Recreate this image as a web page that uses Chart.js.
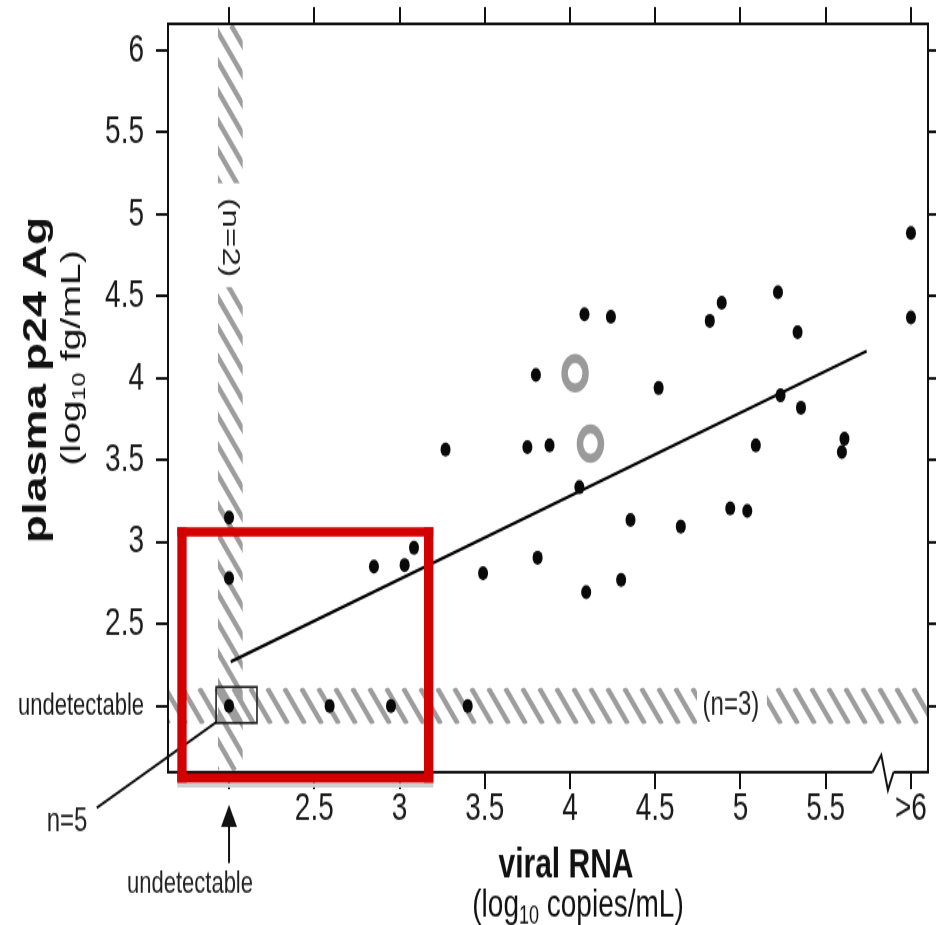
<!DOCTYPE html>
<html>
<head>
<meta charset="utf-8">
<script src="https://cdn.jsdelivr.net/npm/chart.js@4.4.1/dist/chart.umd.min.js"></script>
<style>
  body { margin: 0; background: #fff; }
</style>
</head>
<body>
<!-- the source figure is stretched vertically, so the canvas is drawn 660 high and shown 925 high -->
<canvas id="p24Chart" width="936" height="660" style="display:block;width:936px;height:925px"></canvas>
<script>
// ticks (log10 units); 2 stands for "undetectable", 6 for ">6"
const xTicks = [2, 2.5, 3, 3.5, 4, 4.5, 5, 5.5, 6];
const xTickLabels = ['', '2.5', '3', '3.5', '4', '4.5', '5', '5.5', '>6'];
const yTicks = [2, 2.5, 3, 3.5, 4, 4.5, 5, 5.5, 6];
const yTickLabels = ['undetectable', '2.5', '3', '3.5', '4', '4.5', '5', '5.5', '6'];

// patients (filled dots)
const viralRNA = [2.0, 2.0, 2.0, 2.59, 2.95, 3.40, 2.85, 3.03, 3.085, 3.27, 3.49, 3.75,
  3.80, 3.81, 3.88, 4.055, 4.085, 4.095, 4.24, 4.30, 4.355, 4.52, 4.65, 4.82,
  4.89, 4.94, 5.04, 5.09, 5.22, 5.235, 5.335, 5.355, 5.595, 5.61, 6.0, 6.0];
const p24Ag = [3.15, 2.78, 2.0, 2.0, 2.0, 2.0, 2.85, 2.86, 2.965, 3.565, 2.81, 3.58,
  4.02, 2.905, 3.59, 3.335, 4.39, 2.695, 4.375, 2.77, 3.135, 3.94, 3.095, 4.35,
  4.46, 3.205, 3.19, 3.59, 4.525, 3.895, 4.28, 3.82, 3.55, 3.63, 4.37, 4.885];

// open grey circles
const openRNA = [4.03, 4.12];
const openP24 = [4.03, 3.60];

// regression line end points
const fitRNA = [2.01, 5.74];
const fitP24 = [2.27, 4.165];

const xRange = [1.642, 6.10];
const yRange = [1.597, 6.161];

const canvasH = 660;
const stretch = 925 / canvasH;
const sans = '"Liberation Sans", Arial, sans-serif';

function hatch(ctx, left, top, right, bottom) {
    ctx.save();
    ctx.beginPath();
    ctx.rect(left, top, right - left, bottom - top);
    ctx.clip();
    ctx.strokeStyle = '#9d9d9d';
    ctx.lineWidth = 4.4;
    const step = 17, slope = 1.24;
    const run = (bottom - top) / slope;
    for (let x = left - run - step; x < right + step; x += step) {
        ctx.beginPath();
        ctx.moveTo(x, top);
        ctx.lineTo(x + run, bottom);
        ctx.stroke();
    }
    ctx.restore();
}

function richText(ctx, parts, x, y, angle) {
    ctx.save();
    ctx.translate(x, y);
    ctx.rotate(angle);
    let total = 0;
    parts.forEach(p => {
        ctx.font = p.font;
        p.w = ctx.measureText(p.text).width;
        total += p.w;
    });
    let cx = -total / 2;
    ctx.textAlign = 'left';
    ctx.textBaseline = 'alphabetic';
    parts.forEach(p => {
        ctx.font = p.font;
        ctx.fillText(p.text, cx, p.dy || 0);
        cx += p.w;
    });
    ctx.restore();
}

const bandsPlugin = {
    id: 'bands',
    beforeDatasetsDraw(chart) {
        const ctx = chart.ctx, area = chart.chartArea;
        const px = v => chart.scales.x.getPixelForValue(v);
        const py = v => chart.scales.y.getPixelForValue(v);

        hatch(ctx, px(1.935), area.top + 1, px(2.08), area.bottom - 1);
        hatch(ctx, area.left + 1, py(2.11), area.right - 1, py(1.89));

        ctx.save();
        ctx.fillStyle = '#fff';
        ctx.fillRect(px(1.92), py(5.19), px(2.09) - px(1.92), py(4.556) - py(5.19));
        ctx.fillRect(px(4.745), py(2.12), px(5.155) - px(4.745), py(1.88) - py(2.12));

        ctx.fillStyle = '#222';
        ctx.font = '24px ' + sans;
        ctx.textAlign = 'center';
        ctx.textBaseline = 'middle';
        ctx.fillText('(n=3)', px(4.944), py(2.0));
        ctx.translate(px(2.005), py(4.858));
        ctx.rotate(Math.PI / 2);
        ctx.fillText('(n=2)', 0, 0);
        ctx.restore();
    }
};

const notesPlugin = {
    id: 'notes',
    afterDraw(chart) {
        const ctx = chart.ctx, area = chart.chartArea;
        const px = v => chart.scales.x.getPixelForValue(v);
        const py = v => chart.scales.y.getPixelForValue(v);

        ctx.save();
        // box round the double-undetectable point, with the n=5 leader
        ctx.strokeStyle = '#222';
        ctx.lineWidth = 1.6;
        ctx.strokeRect(px(1.924), py(2.116), px(2.164) - px(1.924), py(1.896) - py(2.116));
        ctx.beginPath();
        ctx.moveTo(px(1.224), py(1.378));
        ctx.lineTo(px(1.927), py(1.902));
        ctx.lineWidth = 2;
        ctx.strokeStyle = '#111';
        ctx.stroke();

        ctx.fillStyle = '#222';
        ctx.textAlign = 'center';
        ctx.textBaseline = 'middle';
        ctx.font = '24px ' + sans;
        ctx.fillText('n=5', px(1.05), py(1.292));

        // arrow + "undetectable" under the x axis
        const ax = px(2);
        ctx.fillStyle = '#111';
        ctx.beginPath();
        ctx.moveTo(ax, py(1.396));
        ctx.lineTo(ax - 8, py(1.262));
        ctx.lineTo(ax + 8, py(1.262));
        ctx.closePath();
        ctx.fill();
        ctx.beginPath();
        ctx.moveTo(ax, py(1.262));
        ctx.lineTo(ax, py(1.042));
        ctx.lineWidth = 2;
        ctx.stroke();
        ctx.fillStyle = '#222';
        ctx.font = '22px ' + sans;
        ctx.fillText('undetectable', px(1.771), py(0.908));

        // axis break between 5.5 and >6
        const by = area.bottom;
        ctx.fillStyle = '#fff';
        ctx.fillRect(px(5.775), by - 2, px(5.898) - px(5.775), 4);
        ctx.beginPath();
        ctx.moveTo(px(5.775), by);
        ctx.lineTo(px(5.826), by - 17 / stretch);
        ctx.lineTo(px(5.865), by + 18 / stretch);
        ctx.lineTo(px(5.898), by);
        ctx.strokeStyle = '#111';
        ctx.lineWidth = 2;
        ctx.stroke();

        // axis titles
        ctx.fillStyle = '#111';
        ctx.textAlign = 'center';
        ctx.textBaseline = 'alphabetic';
        ctx.font = 'bold 30px ' + sans;
        ctx.fillText('viral RNA', 566, 877 / stretch);
        richText(ctx, [
            { text: '(log', font: '28px ' + sans },
            { text: '10', font: '18px ' + sans, dy: 5 },
            { text: ' copies/mL)', font: '28px ' + sans }
        ], 578, 916 / stretch, 0);

        ctx.save();
        ctx.translate(46, 380 / stretch);
        ctx.rotate(-Math.PI / 2);
        ctx.font = 'bold 33px ' + sans;
        ctx.fillText('plasma p24 Ag', 0, 0);
        ctx.restore();
        richText(ctx, [
            { text: '(log', font: '28px ' + sans },
            { text: '10', font: '18px ' + sans, dy: 5 },
            { text: ' fg/mL)', font: '28px ' + sans }
        ], 80, 358 / stretch, -Math.PI / 2);

        // red highlight frame
        const l = px(1.724), r = px(3.171), t = py(3.062), b = py(1.561);
        const hw = 4.65, hh = 4.65 / stretch;
        ctx.fillStyle = '#cfcfcf';
        ctx.fillRect(l - hw, b + hh, r - l + 2 * hw, 5 / stretch);
        ctx.fillStyle = '#d20000';
        ctx.fillRect(l - hw, t - hh, r - l + 2 * hw, 2 * hh);
        ctx.fillRect(l - hw, b - hh, r - l + 2 * hw, 2 * hh);
        ctx.fillRect(l - hw, t - hh, 2 * hw, b - t + 2 * hh);
        ctx.fillRect(r - hw, t - hh, 2 * hw, b - t + 2 * hh);
        ctx.restore();
    }
};

function axisOptions(position, range, ticks, labels, size, tickLength, showLabels) {
    const horizontal = position === 'top' || position === 'bottom';
    return {
        type: 'linear',
        axis: horizontal ? 'x' : 'y',
        position: position,
        min: range[0],
        max: range[1],
        afterBuildTicks: scale => { scale.ticks = ticks.map(v => ({ value: v })); },
        afterFit: scale => {
            if (horizontal) scale.height = size; else scale.width = size;
            // keep the plot frame where the source has it, whatever the label overhang
            scale.paddingLeft = 0;
            scale.paddingRight = 0;
            scale.paddingTop = 0;
            scale.paddingBottom = 0;
        },
        ticks: {
            autoSkip: false,
            maxRotation: 0,
            padding: horizontal ? 0 : 12,
            color: '#1a1a1a',
            font: ctx => {
                const small = ctx.tick && labels[ctx.index] === 'undetectable';
                return { family: sans, size: small ? 22 : 28, lineHeight: 1 };
            },
            callback: (value, index) => showLabels ? labels[index] : ''
        },
        grid: { drawOnChartArea: false, tickLength: tickLength, lineWidth: 2, color: '#111' },
        border: { display: true, color: '#111', width: 2 }
    };
}

function drawChart() {
    new Chart(document.getElementById('p24Chart'), {
        type: 'scatter',
        data: {
            datasets: [{
                label: 'patients',
                data: viralRNA.map((v, i) => ({ x: v, y: p24Ag[i] })),
                pointRadius: 5,
                pointBackgroundColor: '#0a0a0a',
                pointBorderWidth: 0
            }, {
                label: 'open',
                data: openRNA.map((v, i) => ({ x: v, y: openP24[i] })),
                pointRadius: 10.5,
                pointBorderWidth: 6.5,
                pointBorderColor: '#9a9a9a',
                pointBackgroundColor: 'rgba(0,0,0,0)'
            }, {
                label: 'fit',
                type: 'line',
                data: fitRNA.map((v, i) => ({ x: v, y: fitP24[i] })),
                borderColor: '#000',
                borderWidth: 2.2,
                pointRadius: 0,
                fill: false
            }]
        },
        options: {
            responsive: false,
            animation: false,
            devicePixelRatio: 1,
            layout: { padding: 0, autoPadding: false },
            plugins: { legend: { display: false }, tooltip: { enabled: false } },
            scales: {
                x: axisOptions('bottom', xRange, xTicks, xTickLabels, canvasH - 772 / stretch, 17 / stretch, true),
                xTop: axisOptions('top', xRange, xTicks, xTickLabels, 24 / stretch, 17 / stretch, false),
                y: axisOptions('left', yRange, yTicks, yTickLabels, 168, 12, true),
                yRight: axisOptions('right', yRange, yTicks, yTickLabels, 8, 8, false)
            }
        },
        plugins: [bandsPlugin, notesPlugin]
    });
}

drawChart();
</script>
</body>
</html>
